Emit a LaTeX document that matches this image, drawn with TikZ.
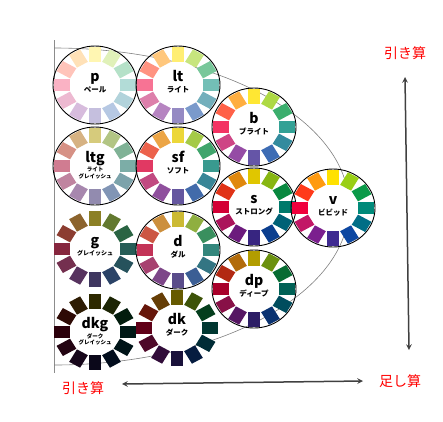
\documentclass[tikz,border=0pt]{standalone}
\usepackage{fontspec}
\setmainfont{Noto Sans CJK JP}
% 色相 (v トーン)
\definecolor{vY}{HTML}{FFE100}
\definecolor{vYG}{HTML}{99CF15}
\definecolor{vG}{HTML}{0A9A48}
\definecolor{vBG}{HTML}{008A7A}
\definecolor{vgB}{HTML}{006E86}
\definecolor{vB}{HTML}{0D47A1}
\definecolor{vV}{HTML}{3F2A91}
\definecolor{vP}{HTML}{7B1F8E}
\definecolor{vRP}{HTML}{C21766}
\definecolor{vR}{HTML}{F0003C}
\definecolor{vrO}{HTML}{FF3A1A}
\definecolor{vyO}{HTML}{FF9A10}
\tikzset{
 ring/.style={draw=black, line width=0.9pt},
 noring/.style={},
 ttl/.style={inner sep=0pt, anchor=base, font=\bfseries\fontsize{14}{14}\selectfont},
 kana/.style={inner sep=0pt, anchor=north, align=center, font=\bfseries\fontsize{7.5}{8}\selectfont},
 kanag/.style={kana, font=\bfseries\fontsize{6}{7}\selectfont},
 kanas/.style={kana, font=\bfseries\fontsize{5.5}{6.3}\selectfont},
 sanlbl/.style={text=red, font=\fontsize{14}{14}\selectfont},
}

\begin{document}
\begin{tikzpicture}[x=1pt,y=-1pt]
 \useasboundingbox (0,0) rectangle (443,421);
 \coordinate (AxT) at (54,40); %縦線上
 \coordinate (AxB) at (54,373); %縦線下
 \draw[black!45, line width=0.6pt] (AxT)--(AxB); %縦線
 \begin{scope}
  \clip (54,0) rectangle (443,421);
  \draw[black!50, line width=0.6pt] (54,206.5) ellipse [x radius=295, y radius=158.5]; %外枠
 \end{scope}

 \foreach \nm/\cx/\cy/\mx/\rg/\ltr/\ks/\kt in {
   p/95/85/!30!white/ring/p/kana/ペール,
   lt/178/85/!55!white/ring/lt/kana/ライト,
   b/254/127/!80!white/ring/b/kana/ブライト,
   ltg/95/166/!35!lightgray/ring/ltg/kanas/{ライト\\グレイッシュ},
   sf/178/166/!70!lightgray/ring/sf/kana/ソフト,
   s/254/207/!88!black/ring/s/kana/ストロング,
   v/333/208/!100/ring/v/kana/ビビッド,
   g/95/249/!40!darkgray/noring/g/kanag/グレイッシュ,
   d/178/250/!60!gray/ring/d/kana/ダル,
   dp/254/289/!70!black/ring/dp/kana/ディープ,
   dkg/95/332/!18!black/noring/dkg/kanas/{ダーク\\グレイッシュ},
   dk/177/328/!40!black/noring/dk/kana/ダーク}{
  \coordinate (\nm) at (\cx,\cy);
  \path[\rg] (\nm) ellipse [x radius=42, y radius=39]; %円
  \begin{scope}[shift={(\nm)}, xscale=42, yscale=39]
   \fill[white] (0,0) circle (0.6);
   \foreach \h [count=\i from 0] in {Y,YG,G,BG,gB,B,V,P,RP,R,rO,yO}
    \fill[fill=v\h\mx, rotate=90-30*\i] (0.6,-0.15) rectangle (0.97,0.15); %色票
  \end{scope}
  \node[ttl] (\nm-l) at ([yshift=4pt]\nm) {\ltr};
  \node[\ks] (\nm-k) at ([yshift=-1pt]\nm) {\kt};
 }

 \node[sanlbl] (SubT) at (405,53) {引き算};
 \node[sanlbl] (AddR) at (400,381) {足し算};
 \node[sanlbl] (SubL) at (83,388) {引き算};
 \coordinate (VaT) at (405,77);
 \coordinate (VaB) at (409,350);
 \coordinate (HaL) at (122,384);
 \coordinate (HaR) at (363,381);
 \draw[black!75, line width=1.5pt, <->, >=stealth] (VaT)--(VaB); %縦矢印
 \draw[black!75, line width=1.5pt, <->, >=stealth] (HaL)--(HaR); %横矢印
\end{tikzpicture}
\end{document}
